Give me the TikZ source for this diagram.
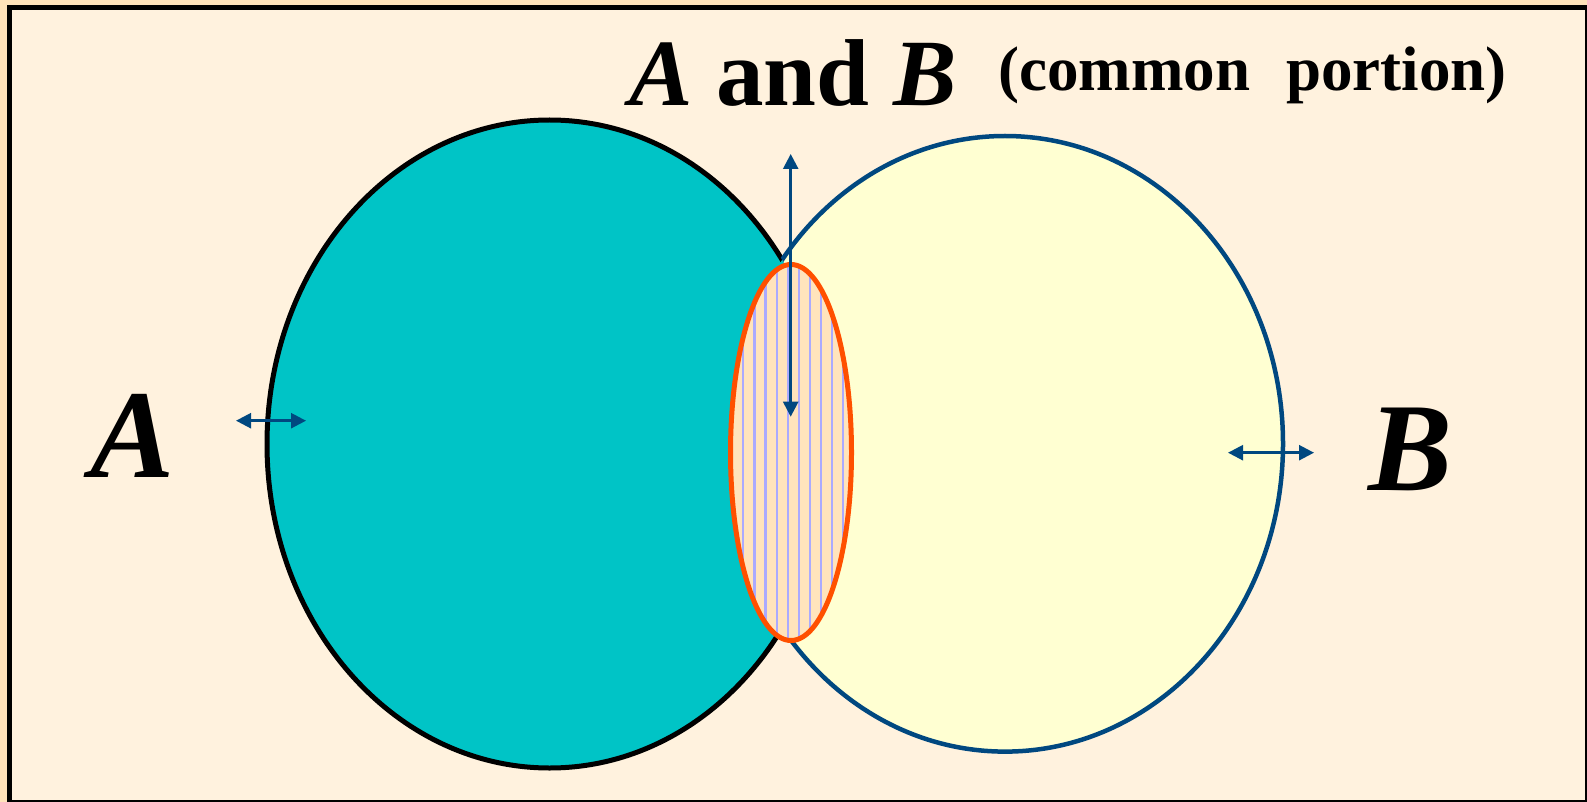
\documentclass[tikz,border=0pt]{standalone}
\usepackage{fontspec}
\setmainfont{Liberation Serif}
\usetikzlibrary{arrows.meta}
\definecolor{marginc}{RGB}{255,227,186}
\definecolor{innerc}{RGB}{255,242,222}
\definecolor{tealc}{RGB}{0,196,198}
\definecolor{yellowc}{RGB}{255,255,210}
\definecolor{bluec}{RGB}{0,72,128}
\definecolor{orangec}{RGB}{255,80,0}
\definecolor{peachc}{RGB}{255,228,188}
\definecolor{hatchc}{RGB}{170,170,255}
\begin{document}
\begin{tikzpicture}[x=1pt,y=-1pt,
  dblarrow/.style={draw=bluec, line width=2.5pt,
    {Triangle[length=15pt,width=15pt]}-{Triangle[length=15pt,width=15pt]}},
  ellA/.style={x radius=282.6, y radius=324},
  ellB/.style={x radius=278, y radius=307.8},
  ellL/.style={x radius=60.5, y radius=188},
  bigtext/.style={anchor=base west, inner sep=0pt, font=\fontsize{126}{126}\selectfont\bfseries\itshape}]
\useasboundingbox (0,0) rectangle (1587,802);
\fill[marginc] (0,0) rectangle (1587,802);
\begin{scope}
  \clip (0,0) rectangle (1587,802);
  \draw[line width=5pt, fill=innerc] (9.5,7.5) rectangle (1587,802);
\end{scope}
\coordinate (cA) at (549.6,444);
\coordinate (cB) at (1005,443.8);
\coordinate (cL) at (791,452.5);
% fills
\fill[yellowc] (cB) ellipse [ellB];
\fill[tealc] (cA) ellipse [ellA];
% outlines, each hidden inside the other set
\begin{scope}[even odd rule]
  \clip (0,0) rectangle (1587,802) (cB) ellipse [ellB];
  \draw[black, line width=5pt] (cA) ellipse [ellA];
\end{scope}
\begin{scope}[even odd rule]
  \clip (0,0) rectangle (1587,802) (cA) ellipse [ellA];
  \draw[bluec, line width=4.5pt] (cB) ellipse [ellB];
\end{scope}
% common portion
\fill[peachc] (cL) ellipse [ellL];
\begin{scope}
  \clip (cL) ellipse [ellL];
  \foreach \k in {-3,...,12} {
    \draw[hatchc, line width=2.2pt] (743.3+11.1*\k,250) -- (743.3+11.1*\k,660);
  }
\end{scope}
\draw[orangec, line width=5pt] (cL) ellipse [ellL];
% arrows
\coordinate (vt) at (790.7,154);
\coordinate (vb) at (790.7,416.7);
\coordinate (la) at (236,420.7);
\coordinate (lb) at (306,420.7);
\coordinate (ra) at (1228,452.7);
\coordinate (rb) at (1314,452.7);
\draw[dblarrow] (vt) -- (vb);
\draw[dblarrow] (la) -- (lb);
\draw[dblarrow] (ra) -- (rb);
% texts
\node[bigtext] (labA) at (90,477) {A};
\node[bigtext] (labB) at (1368,490) {B};
\node[anchor=base west, inner sep=0pt, font=\fontsize{95}{95}\selectfont\bfseries] (title) at (629,106) {\textit{A} and \textit{B}};
\node[anchor=base west, inner sep=0pt, font=\fontsize{63}{63}\selectfont\bfseries] (note) at (998,91) {(common\hspace{36pt}portion)};
\end{tikzpicture}
\end{document}
